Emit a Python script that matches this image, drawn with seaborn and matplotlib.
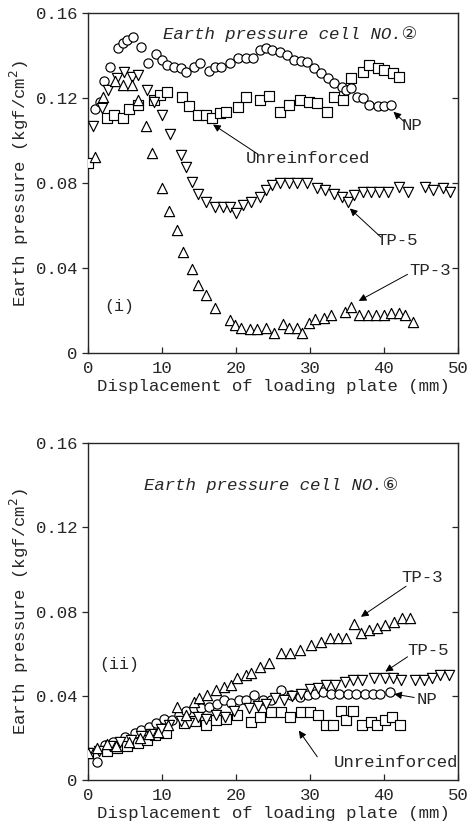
import matplotlib
matplotlib.use('Agg')
import matplotlib.pyplot as plt
import seaborn as sns
import pandas as pd

# ---- panel (i): earth pressure cell NO.2 ----
top_np_x = [0.9, 1.6, 2.1, 2.9, 4.0, 4.7, 5.3, 6.1, 7.2, 8.1, 9.2, 10.0, 10.7, 11.6, 12.5, 13.3, 14.3,
            15.2, 16.3, 17.2, 18.0, 19.2, 20.3, 21.3, 22.3, 23.3, 24.0, 24.9, 26.0, 26.9, 27.9, 28.8,
            29.6, 30.5, 31.5, 32.4, 33.3, 34.3, 34.9, 35.6, 36.3, 37.2, 38.0, 39.2, 40.0, 40.9]
top_np_y = [.1148, .118, .128, .1346, .1435, .1459, .1473, .1487, .144, .1365, .1407, .138, .1355,
            .1346, .134, .132, .1346, .1365, .1327, .1346, .1346, .1365, .139, .139, .139, .1426,
            .1435, .1426, .1416, .140, .138, .1375, .137, .134, .1318, .1294, .127, .125, .1238,
            .1247, .1205, .120, .1167, .116, .116, .1167]

top_ur_x = [0, 2.5, 3.5, 4.7, 5.6, 6.7, 8.9, 9.7, 10.7, 12.7, 13.7, 14.9, 15.9, 16.8, 17.9, 18.7,
            20.3, 21.3, 23.2, 24.5, 26.0, 27.2, 28.7, 29.9, 30.9, 32.3, 33.2, 34.5, 35.6, 37.2,
            38.0, 39.2, 40.0, 41.2, 42.0]
top_ur_y = [.0894, .1106, .112, .1106, .1148, .1167, .119, .1214, .123, .1205, .116, .112, .112,
            .1106, .113, .1134, .1158, .1205, .119, .121, .1134, .1167, .119, .118, .1176, .1134,
            .1205, .119, .1294, .132, .1355, .134, .133, .1318, .130]

top_tp5_x = [0.7, 1.9, 2.7, 3.9, 4.8, 5.9, 6.8, 8.0, 8.9, 10.0, 11.1, 12.5, 13.2, 14.0, 14.9, 16.0,
             17.2, 18.3, 19.2, 20.0, 20.9, 22.0, 23.2, 24.0, 24.9, 26.0, 27.2, 28.3, 29.6, 30.9,
             32.0, 33.2, 34.3, 35.2, 36.0, 37.2, 38.3, 39.3, 40.5, 42.0, 43.2, 45.6, 46.7, 48.0, 48.9]
top_tp5_y = [.1068, .1153, .1238, .1294, .132, .1298, .1308, .1238, .118, .112, .103, .093, .0875,
             .0805, .075, .071, .0687, .0687, .0687, .066, .0696, .071, .0734, .0767, .079, .080,
             .080, .080, .080, .0776, .0767, .075, .0734, .071, .0743, .0758, .0758, .0758, .0758,
             .078, .0758, .078, .0767, .0776, .0758]

top_tp3_x = [0.9, 2.0, 3.6, 4.7, 5.9, 6.7, 7.9, 8.7, 10.0, 10.9, 12.0, 12.9, 14.0, 14.9, 16.0, 17.1,
             19.2, 19.9, 20.7, 21.9, 22.9, 24.0, 25.2, 26.3, 27.2, 28.3, 28.9, 29.9, 30.7, 31.9,
             32.9, 34.7, 35.6, 36.7, 37.9, 38.9, 40.0, 40.9, 42.0, 42.9, 43.9]
top_tp3_y = [.0922, .1205, .128, .126, .126, .119, .107, .094, .0776, .067, .058, .0475, .0395, .032,
             .0273, .0212, .0155, .0132, .0118, .0113, .0113, .0118, .0094, .0136, .0118, .0118,
             .0094, .014, .016, .0165, .018, .0193, .0216, .018, .018, .018, .018, .0188, .0188,
             .018, .0146]

# ---- panel (ii): earth pressure cell NO.6 ----
bot_np_x = [0, 1.2, 2.3, 3.4, 5.0, 6.3, 7.2, 8.3, 9.2, 10.3, 11.3, 12.3, 13.3, 14.3, 15.3, 16.4,
            17.4, 18.4, 19.3, 20.4, 21.4, 22.4, 23.7, 24.7, 26.1, 27.5, 28.7, 29.8, 30.7, 31.8,
            32.8, 34.0, 35.1, 36.2, 37.4, 38.5, 39.5, 40.8]
bot_np_y = [.0128, .0085, .0166, .018, .0204, .0223, .0237, .025, .027, .029, .0285, .031, .033,
            .034, .034, .0347, .036, .038, .0365, .038, .038, .0404, .038, .038, .0427, .0404,
            .0394, .0404, .041, .0418, .041, .041, .041, .041, .041, .041, .041, .0418]

bot_ur_x = [0, 2.5, 3.9, 5.3, 6.7, 8.0, 9.0, 10.6, 13.0, 14.5, 16.0, 17.3, 18.7, 20.1, 22.1, 23.3,
            24.8, 26.1, 27.3, 28.8, 30.0, 31.1, 32.2, 33.1, 34.2, 34.9, 35.8, 37.1, 38.2, 39.1,
            40.2, 41.1, 42.2]
bot_ur_y = [.0128, .014, .015, .016, .0176, .019, .0214, .0223, .027, .028, .026, .0285, .029,
            .031, .0275, .030, .0323, .0323, .030, .0323, .0323, .031, .026, .026, .033, .0285,
            .033, .026, .0275, .026, .0285, .030, .026]

bot_tp5_x = [0, 1.5, 3.0, 4.3, 5.8, 7.2, 8.5, 9.8, 11.0, 12.5, 13.6, 14.8, 16.0, 17.3, 18.5, 19.7,
             21.7, 23.0, 24.0, 25.3, 26.5, 27.6, 28.8, 30.0, 31.1, 32.2, 33.4, 34.7, 35.8, 37.1,
             38.7, 40.1, 41.2, 42.3, 44.2, 45.4, 46.5, 47.6, 48.8]
bot_tp5_y = [.0128, .014, .016, .018, .019, .021, .022, .024, .026, .028, .027, .030, .029, .031,
             .030, .033, .034, .035, .036, .039, .038, .040, .041, .043, .0437, .045, .045, .0465,
             .0475, .0475, .0484, .0484, .0484, .0475, .0475, .0475, .0484, .0498, .0498]

bot_tp3_x = [0, 1.2, 2.5, 3.8, 5.6, 7.0, 8.2, 9.5, 10.8, 12.0, 13.2, 14.3, 15.0, 16.1, 17.3, 18.4,
             19.3, 20.1, 21.3, 22.1, 23.3, 24.4, 26.1, 27.3, 28.7, 30.2, 31.5, 32.7, 33.8, 34.9,
             35.9, 36.9, 38.0, 39.1, 40.2, 41.4, 42.5, 43.6]
bot_tp3_y = [.0128, .015, .017, .016, .018, .020, .022, .023, .026, .0347, .031, .037, .039, .0404,
             .0427, .044, .045, .0484, .0498, .051, .0536, .0557, .0603, .0603, .0617, .064, .0655,
             .0674, .0674, .0674, .074, .0698, .0712, .072, .0736, .075, .077, .077]

markers = {'NP': 'o', 'Unreinforced': 's', 'TP-5': 'v', 'TP-3': '^'}

top = pd.concat([
    pd.DataFrame({'x': top_np_x, 'y': top_np_y, 'series': 'NP'}),
    pd.DataFrame({'x': top_ur_x, 'y': top_ur_y, 'series': 'Unreinforced'}),
    pd.DataFrame({'x': top_tp5_x, 'y': top_tp5_y, 'series': 'TP-5'}),
    pd.DataFrame({'x': top_tp3_x, 'y': top_tp3_y, 'series': 'TP-3'}),
])
bot = pd.concat([
    pd.DataFrame({'x': bot_np_x, 'y': bot_np_y, 'series': 'NP'}),
    pd.DataFrame({'x': bot_ur_x, 'y': bot_ur_y, 'series': 'Unreinforced'}),
    pd.DataFrame({'x': bot_tp5_x, 'y': bot_tp5_y, 'series': 'TP-5'}),
    pd.DataFrame({'x': bot_tp3_x, 'y': bot_tp3_y, 'series': 'TP-3'}),
])

sns.set_style('ticks')
plt.rcParams['font.family'] = ['Liberation Mono', 'DejaVu Sans']
mono = ['Liberation Mono', 'DejaVu Sans']

fig = plt.figure(figsize=(4.71, 8.27), dpi=100)
ax1 = fig.add_axes([0.187, 0.5732, 0.785, 0.4111])
ax2 = fig.add_axes([0.187, 0.0568, 0.785, 0.4075])


def draw_panel(ax, df):
    for name, mk in markers.items():
        sub = df[df['series'] == name]
        size = 44 if mk in ('o', 's') else 54
        sns.scatterplot(data=sub, x='x', y='y', marker=mk, s=size, facecolor='white',
                        edgecolor='black', linewidth=0.85, ax=ax, legend=False, zorder=3)
    ax.set_xlim(0, 50)
    ax.set_ylim(0, 0.16)
    ax.set_xticks(range(0, 51, 10))
    ax.set_yticks([0, 0.04, 0.08, 0.12, 0.16])
    ax.set_yticklabels(['0', '0.04', '0.08', '0.12', '0.16'])
    ax.tick_params(axis='y', direction='out', length=4, width=0.9, labelsize=12.5)
    ax.tick_params(axis='x', direction='in', length=4, width=0.9, labelsize=12.5, pad=6)
    sec = ax.secondary_yaxis('right')
    sec.set_yticks([0.04, 0.08, 0.12])
    sec.tick_params(direction='in', length=4, width=0.9, labelright=False)
    for sp in ax.spines.values():
        sp.set_linewidth(1.0)
        sp.set_visible(True)
    ax.set_xlabel('Displacement of loading plate (mm)', fontsize=12.5, labelpad=2)
    ax.set_ylabel('Earth pressure (kgf/cm$^2$)', fontsize=12.5, labelpad=4)


def label(ax, text, xy_text, xy_from, xy_to):
    ax.text(xy_text[0], xy_text[1], text, fontsize=12.5, ha='center', va='center', family=mono)
    ax.annotate('', xy=xy_to, xytext=xy_from,
                arrowprops=dict(arrowstyle='-|>', color='black', lw=0.7, mutation_scale=11,
                                shrinkA=0, shrinkB=0))


draw_panel(ax1, top)
ax1.text(27.3, 0.150, 'Earth pressure cell NO.\u2461', fontsize=12.5, style='italic',
         ha='center', va='center', family=mono)
ax1.text(4.2, 0.022, '(i)', fontsize=12, ha='center', va='center')
label(ax1, 'NP', (43.8, 0.107), (42.7, 0.109), (41.3, 0.1135))
label(ax1, 'Unreinforced', (29.8, 0.0915), (23.0, 0.0935), (16.9, 0.1075))
label(ax1, 'TP-5', (41.8, 0.053), (39.6, 0.0545), (35.4, 0.068))
label(ax1, 'TP-3', (46.2, 0.039), (43.2, 0.037), (36.6, 0.0245))

draw_panel(ax2, bot)
ax2.text(24.8, 0.140, 'Earth pressure cell NO.\u2465', fontsize=12.5, style='italic',
         ha='center', va='center', family=mono)
ax2.text(4.2, 0.055, '(ii)', fontsize=12, ha='center', va='center')
label(ax2, 'TP-3', (45.2, 0.096), (43.0, 0.092), (36.9, 0.0775))
label(ax2, 'TP-5', (46.0, 0.0615), (43.2, 0.0585), (40.2, 0.0515))
label(ax2, 'NP', (45.9, 0.038), (44.1, 0.0392), (41.4, 0.0408))
label(ax2, 'Unreinforced', (41.6, 0.0085), (31.0, 0.011), (28.5, 0.0235))

plt.savefig('out.png', dpi=100)
